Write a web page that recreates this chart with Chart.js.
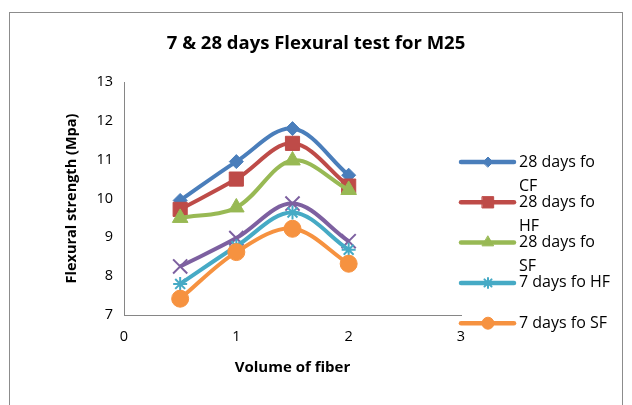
<!DOCTYPE html>
<html>
<head>
<meta charset="utf-8">
<script src="https://cdn.jsdelivr.net/npm/chart.js@4"></script>
<style>
  html, body { margin: 0; padding: 0; background: #fff; }
  #wrap { position: relative; width: 632px; height: 405px; overflow: hidden; }
  #frame { position: absolute; left: 9px; top: 12px; width: 614px; height: 420px; border: 1px solid #8c8c8c; box-sizing: border-box; }
  #chart { position: absolute; left: 0; top: 0; }
</style>
</head>
<body>
<div id="wrap">
  <div id="frame"></div>
  <canvas id="chart" width="632" height="405"></canvas>
</div>
<script>
// fiber volume on x, strength in MPa on y
const fiberVolume = [0.5, 1, 1.5, 2];
const cf28 = [9.95, 10.95, 11.8, 10.6];
const hf28 = [9.72, 10.5, 11.42, 10.32];
const sf28 = [9.5, 9.77, 10.98, 10.22];
const cf7 = [8.25, 8.98, 9.87, 8.9];
const hf7 = [7.8, 8.77, 9.64, 8.68];
const sf7 = [7.42, 8.62, 9.22, 8.32];

const xTicks = [0, 1, 2, 3];
const yTicks = [7, 8, 9, 10, 11, 12, 13];

const seriesNames = ['28 days fo CF', '28 days fo HF', '28 days fo SF', '7 days fo CF', '7 days fo HF', '7 days fo SF'];
const seriesValues = [cf28, hf28, sf28, cf7, hf7, sf7];
const seriesColors = ['#4a7ebb', '#be4b48', '#98b954', '#7d60a0', '#46aac5', '#f69240'];
const seriesShapes = ['rectRot', 'rect', 'triangle', 'crossRot', 'star', 'circle'];
const seriesRadius = [7, 10, 9, 10, 7, 8.5];
// legend shows only these, with Excel-style wrapped text
const legendSeries = [0, 1, 2, 4, 5];
const legendLines = [['28 days fo', 'CF'], ['28 days fo', 'HF'], ['28 days fo', 'SF'], ['7 days fo HF'], ['7 days fo SF']];
const legendRadius = [5, 8, 6.5, 5, 6];

const FONT = '"Open Sans", sans-serif';

const datasets = seriesNames.map((name, i) => ({
  label: name,
  data: fiberVolume.map((x, j) => ({ x: x, y: seriesValues[i][j] })),
  borderColor: seriesColors[i],
  backgroundColor: seriesColors[i],
  borderWidth: 4,
  tension: 0.35,
  showLine: true,
  pointStyle: seriesShapes[i],
  pointRadius: seriesRadius[i],
  pointBorderWidth: (seriesShapes[i] === 'star' || seriesShapes[i] === 'crossRot') ? 2 : 1,
  order: seriesNames.length - i
}));

const sideLegend = {
  id: 'sideLegend',
  afterDraw(chart) {
    const ctx = chart.ctx;
    ctx.save();
    legendSeries.forEach((si, k) => {
      const y = 162 + k * 40.3;
      ctx.strokeStyle = seriesColors[si];
      ctx.lineWidth = 4.5;
      ctx.lineCap = 'round';
      ctx.beginPath();
      ctx.moveTo(461, y);
      ctx.lineTo(514, y);
      ctx.stroke();
      ctx.fillStyle = seriesColors[si];
      ctx.lineWidth = seriesShapes[si] === 'star' ? 2 : 1;
      Chart.helpers.drawPoint(ctx, { pointStyle: seriesShapes[si], radius: legendRadius[k], borderWidth: ctx.lineWidth, rotation: 0 }, 488, y);
      ctx.fillStyle = '#000';
      ctx.font = '16px ' + FONT;
      ctx.textBaseline = 'middle';
      ctx.textAlign = 'left';
      legendLines[k].forEach((t, li) => ctx.fillText(t, 519, y + li * 24));
    });
    ctx.restore();
  }
};

new Chart(document.getElementById('chart'), {
  type: 'scatter',
  data: { datasets: datasets },
  options: {
    responsive: false,
    devicePixelRatio: 1,
    animation: false,
    layout: { padding: 0 },
    plugins: {
      legend: { display: false },
      tooltip: { enabled: false },
      title: {
        display: true,
        text: '7 & 28 days Flexural test for M25',
        color: '#000',
        font: { family: FONT, size: 18.5, weight: 'bold' },
        padding: { top: 32.9, bottom: 26.9 }
      }
    },
    scales: {
      x: {
        type: 'linear',
        min: xTicks[0],
        max: xTicks[xTicks.length - 1],
        afterBuildTicks: s => { s.ticks = xTicks.map(v => ({ value: v })); },
        afterFit: s => { s.height = 90; },
        grid: { display: false, drawTicks: false },
        border: { display: true, color: '#868686', width: 1 },
        ticks: { color: '#000', padding: 13, font: { family: FONT, size: 14.5 } },
        title: {
          display: true,
          text: 'Volume of fiber',
          color: '#000',
          font: { family: FONT, size: 15, weight: 'bold' },
          padding: { top: 0, bottom: 28 }
        }
      },
      y: {
        min: yTicks[0],
        max: yTicks[yTicks.length - 1],
        afterBuildTicks: s => { s.ticks = yTicks.map(v => ({ value: v })); },
        afterFit: s => { s.width = 124; },
        grid: { display: false, drawTicks: false },
        border: { display: true, color: '#868686', width: 1 },
        ticks: { color: '#000', padding: 11, font: { family: FONT, size: 14.5 } },
        title: {
          display: true,
          text: 'Flexural strength (Mpa)',
          color: '#000',
          font: { family: FONT, size: 14.5, weight: 'bold' },
          padding: { top: 63.3, bottom: 0 }
        }
      },
      // empty right-hand scale reserves room for the legend
      legendSpace: {
        type: 'linear',
        position: 'right',
        afterFit: s => { s.width = 171; },
        grid: { display: false, drawTicks: false },
        border: { display: false },
        ticks: { display: false }
      }
    }
  },
  plugins: [sideLegend]
});
</script>
</body>
</html>
